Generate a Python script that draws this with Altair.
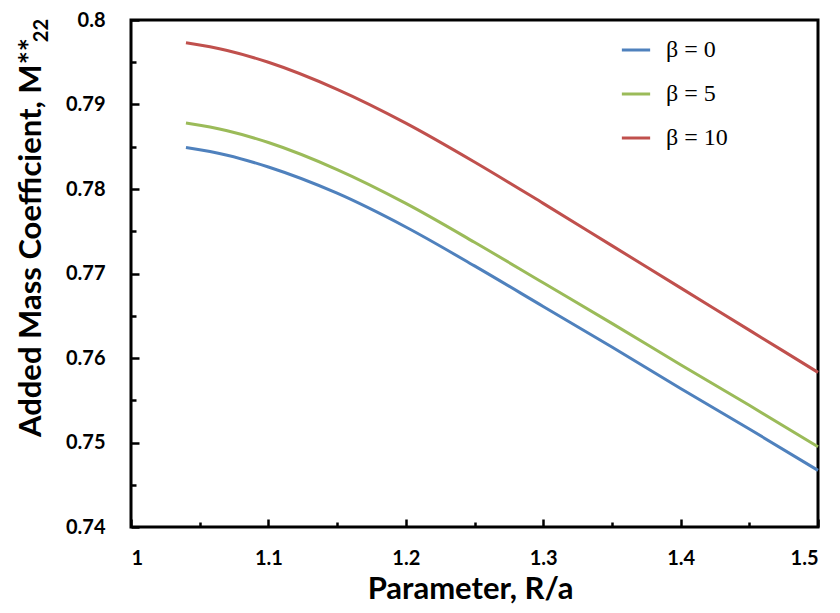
import altair as alt
import pandas as pd

x_vals = [1.04, 1.07, 1.10, 1.15, 1.20, 1.25, 1.30, 1.35, 1.40, 1.45, 1.50]
beta0 = [0.7849, 0.7840, 0.7826, 0.7795, 0.7755, 0.7709, 0.7661, 0.7613, 0.7564, 0.7516, 0.7467]
beta5 = [0.7878, 0.7869, 0.7855, 0.7823, 0.7783, 0.7737, 0.7689, 0.7641, 0.7592, 0.7544, 0.7495]
beta10 = [0.7973, 0.7964, 0.7950, 0.7918, 0.7878, 0.7832, 0.7783, 0.7733, 0.7683, 0.7633, 0.7583]
series_names = ["β = 0", "β = 5", "β = 10"]
colors = ["#4F81BD", "#9BBB59", "#C0504D"]

y_major = [0.74, 0.75, 0.76, 0.77, 0.78, 0.79, 0.80]
y_minor = [0.745, 0.755, 0.765, 0.775, 0.785, 0.795]
x_major = [1.0, 1.1, 1.2, 1.3, 1.4, 1.5]
x_minor = [1.05, 1.15, 1.25, 1.35, 1.45]

rows = []
for name, vals in zip(series_names, [beta0, beta5, beta10]):
    for xv, yv in zip(x_vals, vals):
        rows.append({"x": xv, "y": yv, "series": name})
df = pd.DataFrame(rows)

W, H = 687, 507
FONT = "Lato"
xdom = alt.Scale(domain=[1.0, 1.5], nice=False, zero=False)
ydom = alt.Scale(domain=[0.74, 0.80], nice=False, zero=False)

base = alt.Chart(df)

lines = base.mark_line(strokeWidth=3, interpolate="monotone").encode(
    x=alt.X("x:Q", scale=xdom, axis=alt.Axis(
        values=x_major, format=".1~f", ticks=False, domain=False, grid=False,
        labelFont=FONT, labelFontSize=20, labelFontWeight="bold", labelColor="black",
        labelPadding=21, title="Parameter, R/a", titleFont=FONT, titleFontSize=31,
        titleFontWeight="bold", titleColor="black", titlePadding=6, titleX=339)),
    y=alt.Y("y:Q", scale=ydom, axis=alt.Axis(
        values=y_major, format=".2~f", ticks=False, domain=False, grid=False,
        labelFont=FONT, labelFontSize=20, labelFontWeight="bold", labelColor="black",
        labelPadding=26, title=None)),
    color=alt.Color("series:N", sort=series_names,
                    scale=alt.Scale(domain=series_names, range=colors),
                    legend=alt.Legend(title=None, orient="none", legendX=489, legendY=14,
                                      symbolType="stroke", symbolSize=800,
                                      symbolStrokeWidth=3, labelFont="Liberation Serif",
                                      labelFontSize=24, labelColor="black", labelOffset=14,
                                      rowPadding=16, padding=0)),
)

def tick_layer(channel, values, size):
    if channel == "y":
        enc = dict(
            x=alt.X("x:Q", scale=xdom, axis=None),
            y=alt.Y("y:Q", scale=ydom, axis=alt.Axis(
                orient="right", offset=-W, values=values, tickSize=size, tickWidth=2.5,
                tickColor="black", labels=False, domain=False, grid=False, title=None)),
        )
    else:
        enc = dict(
            x=alt.X("x:Q", scale=xdom, axis=alt.Axis(
                orient="top", offset=-H, values=values, tickSize=size, tickWidth=2.5,
                tickColor="black", labels=False, domain=False, grid=False, title=None)),
            y=alt.Y("y:Q", scale=ydom, axis=None),
        )
    return base.mark_line(opacity=0).encode(detail="series:N", **enc)

ytitle = alt.Chart(pd.DataFrame({"t": ["Added Mass Coefficient, M**"]})).mark_text(
    angle=270, align="right", baseline="middle", font=FONT, fontSize=31,
    fontWeight="bold", color="black").encode(
    text="t:N", x=alt.value(-99), y=alt.value(18))
ysub = alt.Chart(pd.DataFrame({"t": ["22"]})).mark_text(
    angle=270, align="right", baseline="middle", font=FONT, fontSize=20,
    fontWeight="bold", color="black").encode(
    text="t:N", x=alt.value(-89), y=alt.value(-1))

chart = alt.layer(
    lines,
    tick_layer("y", y_major, 8),
    tick_layer("y", y_minor, 5),
    tick_layer("x", x_major, 8),
    tick_layer("x", x_minor, 5),
    ytitle, ysub,
).resolve_axis(x="independent", y="independent").properties(
    width=W, height=H,
    autosize=alt.AutoSizeParams(type="none"),
    padding={"left": 123, "top": 12, "right": 14, "bottom": 78},
).configure(background="white").configure_view(stroke="black", strokeWidth=3)

chart.save("out.html", embed_options={"renderer": "svg", "actions": False})
